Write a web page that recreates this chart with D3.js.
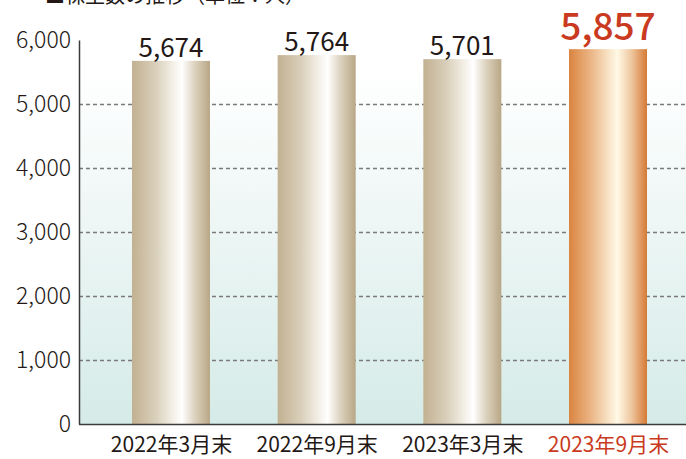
<!DOCTYPE html>
<html>
<head>
<meta charset="utf-8">
<script src="https://cdn.jsdelivr.net/npm/d3@7"></script>
<style>
  html, body { margin: 0; padding: 0; background: #fff; }
  svg { display: block; font-family: "Noto Sans CJK JP", "Noto Sans", sans-serif; }
</style>
</head>
<body>
<div id="chart"></div>
<script>
// data
const categories = ['2022年3月末', '2022年9月末', '2023年3月末', '2023年9月末'];
const values = [5674, 5764, 5701, 5857];
const yTicks = [0, 1000, 2000, 3000, 4000, 5000, 6000];
const highlight = '2023年9月末';

const width = 686, height = 459;
const m = { left: 79, right: 686, top: 40, bottom: 424 };

const svg = d3.select('#chart').append('svg')
  .attr('width', width)
  .attr('height', height);

const defs = svg.append('defs');

// background gradient of plot area
const bg = defs.append('linearGradient')
  .attr('id', 'bg').attr('x1', 0).attr('x2', 0).attr('y1', 0).attr('y2', 1);
bg.append('stop').attr('offset', '0%').attr('stop-color', '#ffffff');
bg.append('stop').attr('offset', '8%').attr('stop-color', '#ffffff');
bg.append('stop').attr('offset', '100%').attr('stop-color', '#d5ebe8');

// gold bar
const gold = defs.append('linearGradient')
  .attr('id', 'gold').attr('x1', 0).attr('x2', 1).attr('y1', 0).attr('y2', 0);
[['0%', '#c2b192'], ['30%', '#d9cfba'], ['52%', '#f3efe6'], ['64%', '#ffffff'], ['80%', '#ddd3c0'], ['100%', '#b8a786']]
  .forEach(s => gold.append('stop').attr('offset', s[0]).attr('stop-color', s[1]));

// orange bar
const orange = defs.append('linearGradient')
  .attr('id', 'orange').attr('x1', 0).attr('x2', 1).attr('y1', 0).attr('y2', 0);
[['0%', '#da8440'], ['30%', '#ecb98a'], ['50%', '#f8e2c4'], ['62%', '#fff9e6'], ['80%', '#efc79f'], ['100%', '#d57a36']]
  .forEach(s => orange.append('stop').attr('offset', s[0]).attr('stop-color', s[1]));

const y = d3.scaleLinear().domain([0, 6000]).range([m.bottom, m.top]);
const xc = d3.scalePoint().domain(categories).range([171, 608]);
const barW = 78;

// title (cut off at the top edge, as in the source)
svg.append('text')
  .attr('x', 45).attr('y', 3)
  .attr('font-size', 20)
  .attr('fill', '#231815')
  .text('■株主数の推移（単位：人）');

svg.append('rect')
  .attr('x', m.left).attr('y', m.top)
  .attr('width', m.right - m.left).attr('height', m.bottom - m.top)
  .attr('fill', 'url(#bg)');

// grid lines
svg.append('g')
  .selectAll('line')
  .data(yTicks.filter(t => t > 0 && t < 6000))
  .join('line')
  .attr('x1', m.left).attr('x2', m.right)
  .attr('y1', d => y(d) + 0.5).attr('y2', d => y(d) + 0.5)
  .attr('stroke', '#7a7a7a')
  .attr('stroke-width', 1.3)
  .attr('stroke-dasharray', '4,3');

// bars
svg.append('g')
  .selectAll('rect')
  .data(values)
  .join('rect')
  .attr('x', (d, i) => xc(categories[i]) - barW / 2)
  .attr('y', d => y(d))
  .attr('width', barW)
  .attr('height', d => y(0) - y(d))
  .attr('fill', (d, i) => categories[i] === highlight ? 'url(#orange)' : 'url(#gold)');

// value labels
svg.append('g')
  .selectAll('text')
  .data(values)
  .join('text')
  .attr('x', (d, i) => xc(categories[i]))
  .attr('y', (d, i) => categories[i] === highlight ? y(d) - 9 : y(d) - 4)
  .attr('text-anchor', 'middle')
  .attr('font-size', (d, i) => categories[i] === highlight ? 37 : 26)
  .attr('font-weight', (d, i) => categories[i] === highlight ? 500 : 400)
  .attr('fill', (d, i) => categories[i] === highlight ? '#c93a20' : '#231815')
  .text(d => d3.format(',')(d));

// y axis
const yAxis = svg.append('g')
  .attr('transform', `translate(${m.left},0)`)
  .call(d3.axisLeft(y).tickValues(yTicks).tickFormat(d3.format(',')).tickSize(0).tickPadding(8));
yAxis.select('.domain').attr('stroke', '#3e3a39').attr('stroke-width', 1.5);
yAxis.selectAll('text')
  .attr('font-size', 23)
  .attr('fill', '#231815')
  .attr('font-family', '"Noto Sans CJK JP", sans-serif')
  .attr('font-weight', 300);

// x axis baseline + labels
const xAxis = svg.append('g')
  .attr('transform', `translate(0,${m.bottom})`)
  .call(d3.axisBottom(xc).tickSize(0).tickPadding(13));
xAxis.select('.domain').remove();
svg.append('line')
  .attr('x1', m.left).attr('x2', m.right)
  .attr('y1', m.bottom + 0.5).attr('y2', m.bottom + 0.5)
  .attr('stroke', '#3e3a39').attr('stroke-width', 1.5);
xAxis.selectAll('text')
  .attr('font-size', 21)
  .attr('font-family', '"Noto Sans CJK JP", sans-serif')
  .attr('fill', d => d === highlight ? '#c93a20' : '#231815');
</script>
</body>
</html>
